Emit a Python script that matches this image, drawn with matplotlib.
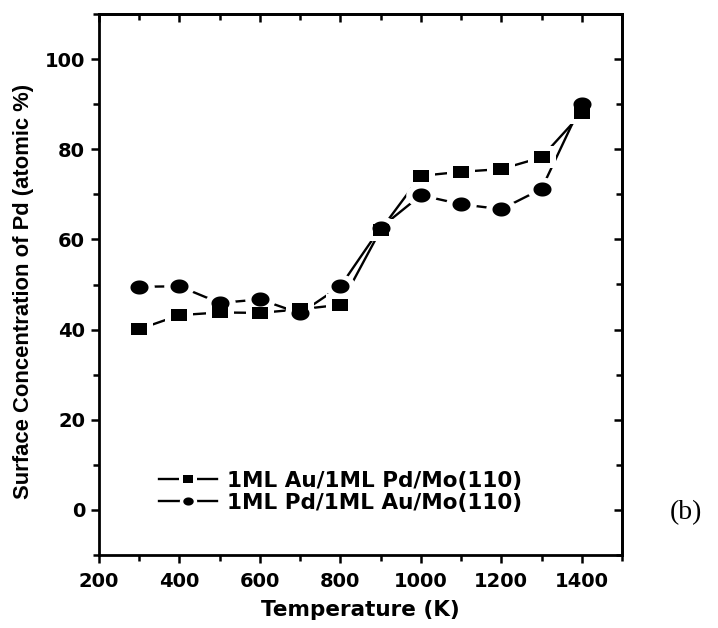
import numpy as np
import matplotlib
matplotlib.use("Agg")
import matplotlib.pyplot as plt
from matplotlib.path import Path
from matplotlib.lines import Line2D
from matplotlib.legend_handler import HandlerTuple
from matplotlib.ticker import MultipleLocator

# ---- data ----
temperature = [300, 400, 500, 600, 700, 800, 900, 1000, 1100, 1200, 1300, 1400]
au_on_pd = [40.1, 43.2, 43.8, 43.7, 44.5, 45.5, 62.1, 74.1, 75.0, 75.6, 78.2, 88.0]
pd_on_au = [49.5, 49.6, 45.9, 46.7, 43.6, 49.6, 62.6, 69.8, 67.8, 66.7, 71.2, 90.1]
labels = ["1ML Au/1ML Pd/Mo(110)", "1ML Pd/1ML Au/Mo(110)"]
xticks = [200, 400, 600, 800, 1000, 1200, 1400]
yticks = [0, 20, 40, 60, 80, 100]

# stretched marker shapes (reference is horizontally stretched)
t = np.linspace(0, 2 * np.pi, 64)
ellipse = Path(np.column_stack([np.cos(t), 0.78 * np.sin(t)]), closed=True)
rect = Path([(-1, -0.8), (1, -0.8), (1, 0.8), (-1, 0.8), (-1, -0.8)], closed=True)

fig = plt.figure(figsize=(7.18, 6.28), dpi=100)
ax = fig.add_axes([99 / 718, 1 - 555 / 628, (622 - 99) / 718, (555 - 14) / 628])

series = [(au_on_pd, rect, 11.3), (pd_on_au, ellipse, 13.0)]
halo = 9.0
for y, m, ms in series:
    ax.plot(temperature, y, '-', color='black', lw=1.7, zorder=2)
for y, m, ms in series:
    ax.plot(temperature, y, ls='none', marker=m, ms=ms + halo, mfc='white', mec='white', mew=0, zorder=3)
for y, m, ms in series:
    ax.plot(temperature, y, ls='none', marker=m, ms=ms, mfc='black', mec='black', mew=0, zorder=4)

ax.set_xlim(200, 1500)
ax.set_ylim(-10, 110)
ax.set_xticks(xticks)
ax.set_yticks(yticks)
ax.xaxis.set_minor_locator(MultipleLocator(100))
ax.yaxis.set_minor_locator(MultipleLocator(10))
for s in ax.spines.values():
    s.set_linewidth(2.0)
ax.tick_params(which='both', width=1.8)
ax.tick_params(which='major', length=6)
ax.tick_params(which='minor', length=4)
ax.tick_params(axis='x', which='both', direction='out', top=False)
ax.tick_params(axis='y', which='both', direction='out', right=False)

sec_x = ax.secondary_xaxis('top')
sec_x.set_xticks(xticks)
sec_x.xaxis.set_minor_locator(MultipleLocator(100))
sec_x.tick_params(which='both', direction='in', width=1.8, labeltop=False)
sec_x.tick_params(which='major', length=6)
sec_x.tick_params(which='minor', length=4)
sec_x.spines['top'].set_linewidth(2.0)
sec_y = ax.secondary_yaxis('right')
sec_y.set_yticks(yticks)
sec_y.yaxis.set_minor_locator(MultipleLocator(10))
sec_y.tick_params(which='both', direction='in', width=1.8, labelright=False)
sec_y.tick_params(which='major', length=6)
sec_y.tick_params(which='minor', length=4)
sec_y.spines['right'].set_linewidth(2.0)

tickfont = dict(family='DejaVu Sans', weight='bold', size=14)
ax.set_xticklabels([str(v) for v in xticks], **tickfont)
ax.set_yticklabels([str(v) for v in yticks], **tickfont)
ax.tick_params(axis='x', pad=6)
ax.tick_params(axis='y', pad=4)

ax.set_xlabel("Temperature (K)", family='DejaVu Sans', weight='bold', size=15.5, labelpad=7)
ax.set_ylabel("Surface Concentration of Pd (atomic %)", family=['Liberation Sans Narrow', 'Liberation Sans'],
              weight='bold', size=15.8, labelpad=0)
ax.yaxis.set_label_coords(-0.125, 0.488)

handles = []
for y, m, ms in series:
    l = Line2D([], [], color='black', lw=1.7)
    h = Line2D([], [], ls='none', marker=m, ms=7.5 + 5, mfc='white', mec='white', mew=0)
    k = Line2D([], [], ls='none', marker=m, ms=7.5, mfc='black', mec='black', mew=0)
    handles.append((l, h, k))
ax.legend(handles, labels, handler_map={tuple: HandlerTuple(ndivide=1)}, frameon=False,
          loc='lower left', bbox_to_anchor=(0.085, 0.05), handlelength=2.7, handletextpad=0.5,
          labelspacing=0.1, borderaxespad=0.3, prop=dict(family='DejaVu Sans', weight='bold', size=15.5))

fig.text(686 / 718, 1 - 513 / 628, "(b)", family='Liberation Serif', size=20, ha='center', va='center')

fig.savefig("out.png", dpi=100)
